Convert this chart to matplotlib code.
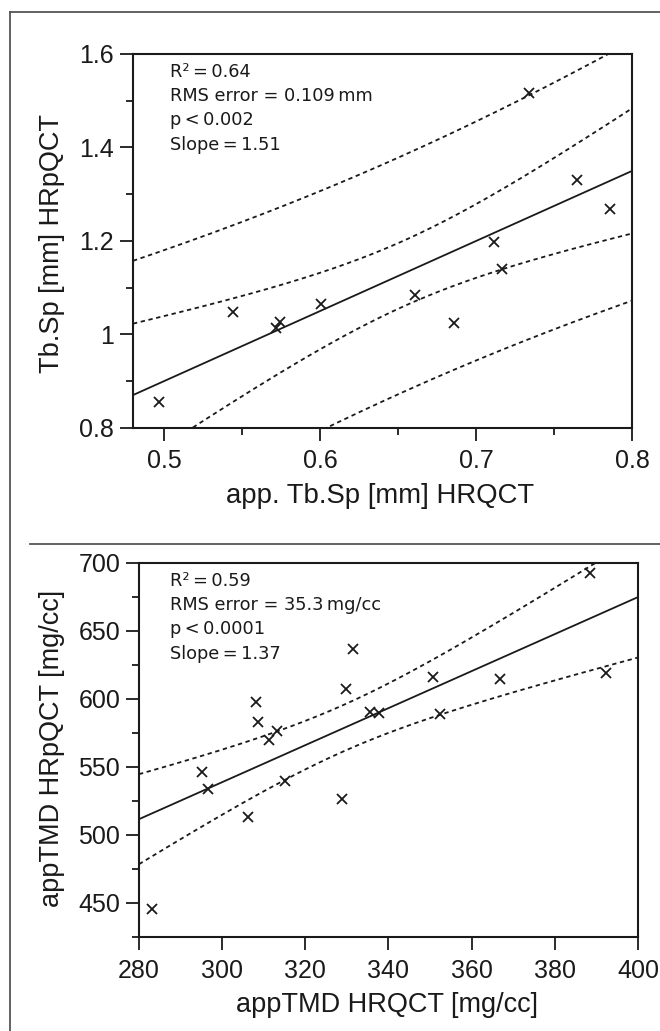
import numpy as np
import matplotlib
matplotlib.use('Agg')
import matplotlib.pyplot as plt
from matplotlib.lines import Line2D
from matplotlib.ticker import MultipleLocator, FuncFormatter

# top panel: trabecular separation
tbsp_hrqct = [0.497, 0.544, 0.5716, 0.5743, 0.6005, 0.6608, 0.686, 0.7114, 0.7168, 0.7338, 0.7649, 0.786]
tbsp_hrpqct = [0.855, 1.049, 1.014, 1.026, 1.065, 1.085, 1.024, 1.1975, 1.140, 1.516, 1.331, 1.268]
tbsp_text = ["R\u00b2\u2009=\u20090.64", "RMS error = 0.109\u2009mm", "p\u2009<\u20090.002", "Slope\u2009=\u20091.51"]

# bottom panel: apparent tissue mineral density
tmd_hrqct = [283.2, 295.2, 296.6, 306.3, 308.2, 308.7, 311.2, 313.2, 315.2, 328.8,
             329.8, 331.4, 335.5, 337.8, 350.7, 352.5, 366.8, 388.4, 392.4]
tmd_hrpqct = [445.6, 546.1, 534.1, 512.9, 598.0, 582.8, 569.9, 576.5, 540.0, 526.3,
              607.3, 636.4, 590.5, 590.0, 616.3, 588.9, 614.6, 692.9, 619.3]
tmd_text = ["R\u00b2\u2009=\u20090.59", "RMS error = 35.3\u2009mg/cc", "p\u2009<\u20090.0001", "Slope\u2009=\u20091.37"]

# student t 97.5% for df = n-2
T_TBSP = 2.228
T_TMD = 2.110

plt.rcParams['font.family'] = ['Liberation Sans', 'DejaVu Sans']
NARROW = ['Liberation Sans Narrow', 'DejaVu Sans Condensed', 'DejaVu Sans']
INK = '#1a1a1a'
DASH = (0, (2.4, 2.0))


def fit_bands(x, y, xgrid, tval):
    # least squares line with 95% confidence and prediction bands
    x = np.asarray(x)
    y = np.asarray(y)
    n = len(x)
    b, a = np.polyfit(x, y, 1)
    resid = y - (a + b * x)
    s = np.sqrt(np.sum(resid**2) / (n - 2))
    sxx = np.sum((x - x.mean())**2)
    yfit = a + b * xgrid
    conf = tval * s * np.sqrt(1.0 / n + (xgrid - x.mean())**2 / sxx)
    pred = tval * s * np.sqrt(1 + 1.0 / n + (xgrid - x.mean())**2 / sxx)
    return yfit, conf, pred


def style_axes(ax):
    for sp in ax.spines.values():
        sp.set_linewidth(1.5)
        sp.set_color(INK)
    ax.tick_params(which='major', direction='out', length=9.5, width=1.3, color=INK,
                   labelsize=18, labelcolor=INK)
    ax.tick_params(which='minor', direction='out', length=5, width=1.3, color=INK)
    ax.tick_params(axis='x', which='major', pad=6)
    ax.tick_params(axis='y', which='major', pad=4)


def stats_text(ax, lines, x0):
    for i, t in enumerate(lines):
        ax.text(x0, 0.952 - i * 0.0648, t, transform=ax.transAxes, family=NARROW,
                fontsize=12.8, color=INK, va='center', ha='left')


fig = plt.figure(figsize=(6.6, 10.31), dpi=100)

# outer frame and separator
fig.add_artist(Line2D([0.0152, 1.0], [0.9884, 0.9884], color='#555555', lw=1.3))
fig.add_artist(Line2D([0.0152, 0.0152], [0.0, 0.9884], color='#555555', lw=1.3))
fig.add_artist(Line2D([0.045, 1.0], [0.4724, 0.4724], color='#555555', lw=1.3))

# top panel
ax1 = fig.add_axes([0.2015, 0.5849, 0.756, 0.3628])
xgrid = np.linspace(0.48, 0.8, 300)
yfit, conf, pred = fit_bands(tbsp_hrqct, tbsp_hrpqct, xgrid, T_TBSP)
ax1.plot(xgrid, yfit, color=INK, lw=1.3, zorder=2)
for band in (conf, pred):
    ax1.plot(xgrid, yfit + band, color=INK, lw=1.3, ls=DASH, zorder=2)
    ax1.plot(xgrid, yfit - band, color=INK, lw=1.3, ls=DASH, zorder=2)
ax1.plot(tbsp_hrqct, tbsp_hrpqct, 'x', color=INK, ms=7.5, mew=1.3, zorder=3)
ax1.set_xlim(0.48, 0.8)
ax1.set_ylim(0.8, 1.6)
ax1.xaxis.set_major_locator(MultipleLocator(0.1))
ax1.xaxis.set_minor_locator(MultipleLocator(0.05))
ax1.yaxis.set_major_locator(MultipleLocator(0.2))
ax1.yaxis.set_minor_locator(MultipleLocator(0.1))
ax1.yaxis.set_major_formatter(FuncFormatter(lambda v, p: ('%.1f' % v).rstrip('0').rstrip('.')))
ax1.xaxis.set_major_formatter(FuncFormatter(lambda v, p: '%.1f' % v))
stats_text(ax1, tbsp_text, 0.074)
style_axes(ax1)
ax1.set_xlabel('app. Tb.Sp [mm] HRQCT', fontsize=19.8, color=INK)
ax1.set_ylabel('Tb.Sp [mm] HRpQCT', fontsize=19.5, color=INK)
ax1.xaxis.set_label_coords(0.495, -0.147)
ax1.yaxis.set_label_coords(-0.136, 0.492)

# bottom panel
ax2 = fig.add_axes([0.2106, 0.0912, 0.756, 0.3628])
xgrid = np.linspace(280, 400, 300)
yfit, conf, pred = fit_bands(tmd_hrqct, tmd_hrpqct, xgrid, T_TMD)
ax2.plot(xgrid, yfit, color=INK, lw=1.3, zorder=2)
ax2.plot(xgrid, yfit + conf, color=INK, lw=1.3, ls=DASH, zorder=2)
ax2.plot(xgrid, yfit - conf, color=INK, lw=1.3, ls=DASH, zorder=2)
ax2.plot(tmd_hrqct, tmd_hrpqct, 'x', color=INK, ms=7.5, mew=1.3, zorder=3)
ax2.set_xlim(280, 400)
ax2.set_ylim(425, 700)
ax2.xaxis.set_major_locator(MultipleLocator(20))
ax2.yaxis.set_major_locator(MultipleLocator(50))
ax2.yaxis.set_minor_locator(MultipleLocator(25))
stats_text(ax2, tmd_text, 0.062)
style_axes(ax2)
ax2.set_xlabel('appTMD HRQCT [mg/cc]', fontsize=19.5, color=INK)
ax2.set_ylabel('appTMD HRpQCT [mg/cc]', fontsize=19.5, color=INK)
ax2.xaxis.set_label_coords(0.497, -0.147)
ax2.yaxis.set_label_coords(-0.148, 0.503)

fig.savefig('out.png', dpi=100)
